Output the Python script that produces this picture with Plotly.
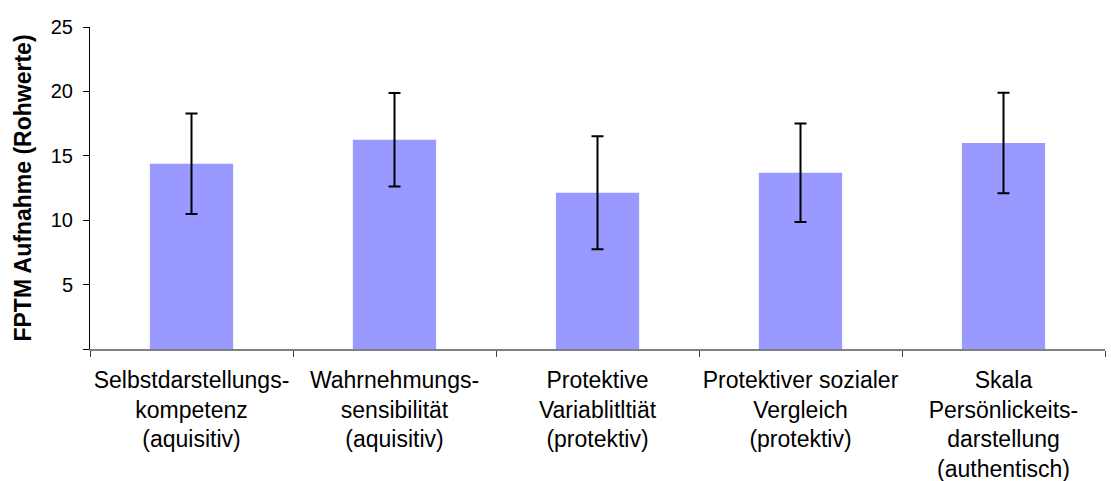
import plotly.graph_objects as go

categories = [
    "Selbstdarstellungs-<br>kompetenz<br>(aquisitiv)",
    "Wahrnehmungs-<br>sensibilität<br>(aquisitiv)",
    "Protektive<br>Variablitltiät<br>(protektiv)",
    "Protektiver sozialer<br>Vergleich<br>(protektiv)",
    "Skala<br>Persönlickeits-<br>darstellung<br>(authentisch)",
]
means = [14.38, 16.24, 12.13, 13.68, 16.0]
errors = [3.9, 3.63, 4.38, 3.82, 3.9]

y_tickvals = [0, 5, 10, 15, 20, 25]
y_ticktext = ["", "5", "10", "15", "20", "25"]

fig = go.Figure(
    go.Bar(
        x=categories,
        y=means,
        marker=dict(color="#9999FF", line=dict(width=0)),
        error_y=dict(type="data", array=errors, visible=True,
                     color="black", thickness=2, width=6),
    )
)

fig.update_layout(
    width=1111,
    height=481,
    margin=dict(l=90, r=6, t=27, b=132),
    paper_bgcolor="white",
    plot_bgcolor="white",
    bargap=0.59,
    showlegend=False,
    font=dict(family="Liberation Sans, Arial, sans-serif", color="black"),
)

fig.update_xaxes(
    showline=True, linecolor="#808080", linewidth=2,
    ticks="outside", tickson="boundaries", ticklen=6, tickcolor="#404040",
    tickfont=dict(size=23), tickangle=0, automargin=False, ticklabelstandoff=9,
    showgrid=False, zeroline=False,
)
fig.update_yaxes(
    range=[0, 25], tickvals=y_tickvals, ticktext=y_ticktext,
    showline=True, linecolor="black", linewidth=1,
    ticks="outside", ticklen=6, tickcolor="black",
    tickfont=dict(size=20), showgrid=False, zeroline=False, automargin=False,
    ticklabelstandoff=6,
    title=dict(text="<b>FPTM Aufnahme (Rohwerte)</b>", font=dict(size=23), standoff=12),
)

fig.write_html("out.html", config={"displayModeBar": False},
               post_script="document.body.style.margin='0';")
